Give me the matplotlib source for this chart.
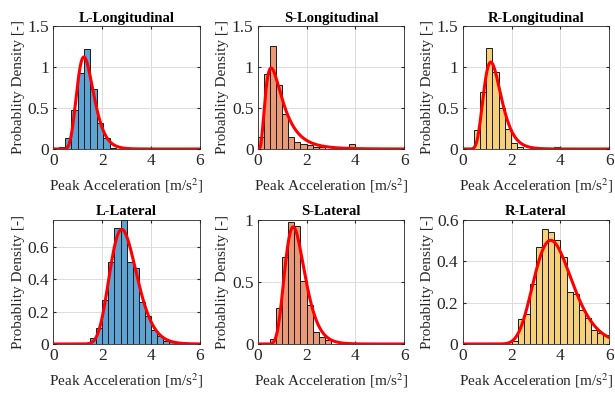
"""
Peak acceleration distributions with lognormal fits
"""

import numpy as np
import matplotlib.pyplot as plt

plt.rcParams["font.family"] = ["Liberation Serif", "DejaVu Serif"]
plt.rcParams["mathtext.fontset"] = "stix"

TITLES = ["L-Longitudinal", "S-Longitudinal", "R-Longitudinal",
          "L-Lateral", "S-Lateral", "R-Lateral"]

# histogram bins: first edge, bin width, densities
L_LONG_START, L_LONG_W = 0.22, 0.26
L_LONG = [0.02, 0.14, 0.47, 0.93, 1.22, 0.73, 0.32, 0.14, 0.01]

S_LONG_START, S_LONG_W = 0.0, 0.25
S_LONG = [0.15, 0.91, 1.26, 0.78, 0.43, 0.15, 0.08, 0.06, 0.045, 0.03, 0.03,
          0, 0, 0, 0, 0.06]

R_LONG_START, R_LONG_W = 0.47, 0.25
R_LONG = [0.23, 0.70, 1.23, 0.94, 0.50, 0.24, 0.07, 0.02, 0, 0, 0, 0, 0, 0.03]

L_LAT_START, L_LAT_W = 1.5, 0.25
L_LAT = [0.035, 0.097, 0.275, 0.51, 0.72, 0.77, 0.51, 0.47, 0.26, 0.175,
         0.086, 0.05, 0.02, 0.01, 0.01]

S_LAT_START, S_LAT_W = 0.5, 0.25
S_LAT = [0.04, 0.29, 0.70, 0.98, 0.95, 0.51, 0.31, 0.10, 0.06, 0.03]

R_LAT_START, R_LAT_W = 2.0, 0.25
R_LAT = [0.016, 0.12, 0.147, 0.29, 0.47, 0.556, 0.54, 0.50, 0.42, 0.25,
         0.24, 0.165, 0.127, 0.068, 0.055, 0.044]

# lognormal fit parameters (mu, sigma)
FIT_MU = [0.298, -0.226, 0.237, 1.068, 0.451, 1.328]
FIT_SIGMA = [0.274, 0.61, 0.312, 0.197, 0.281, 0.2165]

Y_MAX = [1.5, 1.5, 1.5, 0.77, 1.0, 0.6]
Y_TICKS = [[0, 0.5, 1, 1.5], [0, 0.5, 1, 1.5], [0, 0.5, 1, 1.5],
           [0, 0.2, 0.4, 0.6], [0, 0.5, 1], [0, 0.2, 0.4, 0.6]]
Y_TICKLABELS = [["0", "0.5", "1", "1.5"], ["0", "0.5", "1", "1.5"],
                ["0", "0.5", "1", "1.5"], ["0", "0.2", "0.4", "0.6"],
                ["0", "0.5", "1"], ["0", "0.2", "0.4", "0.6"]]

COLORS = ["#5da4d5", "#e89a78", "#f4d07a", "#5da4d5", "#e89a78", "#f4d07a"]

hists = [(L_LONG_START, L_LONG_W, L_LONG), (S_LONG_START, S_LONG_W, S_LONG),
         (R_LONG_START, R_LONG_W, R_LONG), (L_LAT_START, L_LAT_W, L_LAT),
         (S_LAT_START, S_LAT_W, S_LAT), (R_LAT_START, R_LAT_W, R_LAT)]

fig = plt.figure(figsize=(6.15, 3.95), dpi=100)
lefts = [0.0867, 0.419, 0.7523]
rows = [(0.6228, 0.3114), (0.1291, 0.315)]

x = np.linspace(0.001, 6, 600)
for i in range(6):
    row, col = divmod(i, 3)
    ax = fig.add_axes([lefts[col], rows[row][0], 0.2385, rows[row][1]])
    start, w, dens = hists[i]
    edges = start + w * np.arange(len(dens))
    ax.bar(edges, dens, width=w, align="edge", color=COLORS[i],
           edgecolor="#1a1a1a", linewidth=0.7, zorder=2)
    mu, s = FIT_MU[i], FIT_SIGMA[i]
    pdf = np.exp(-(np.log(x) - mu) ** 2 / (2 * s ** 2)) / (x * s * np.sqrt(2 * np.pi))
    ax.plot(np.r_[0, x], np.r_[0, pdf], color="red", linewidth=2.2, zorder=3)
    ax.set_xlim(0, 6)
    ax.set_ylim(0, Y_MAX[i])
    ax.set_xticks([0, 2, 4, 6])
    ax.set_yticks(Y_TICKS[i])
    ax.set_yticklabels(Y_TICKLABELS[i])
    ax.grid(True, color="#dcdcdc", linewidth=0.7, zorder=0)
    ax.set_axisbelow(True)
    ax.tick_params(direction="in", length=2.5, labelsize=12.5, colors="#262626",
                   top=True, right=True, pad=3)
    for sp in ax.spines.values():
        sp.set_color("#262626")
        sp.set_linewidth(0.6)
    ax.set_title(TITLES[i], fontsize=10.5, fontweight="bold", pad=3)
    ax.set_xlabel("Peak Acceleration [m/s$^2$]", fontsize=11, color="#262626",
                  labelpad=5)
    ax.set_ylabel("Probablity Density [-]", fontsize=11, color="#262626",
                  labelpad=2)

plt.savefig("out.png", dpi=100)
plt.close()
